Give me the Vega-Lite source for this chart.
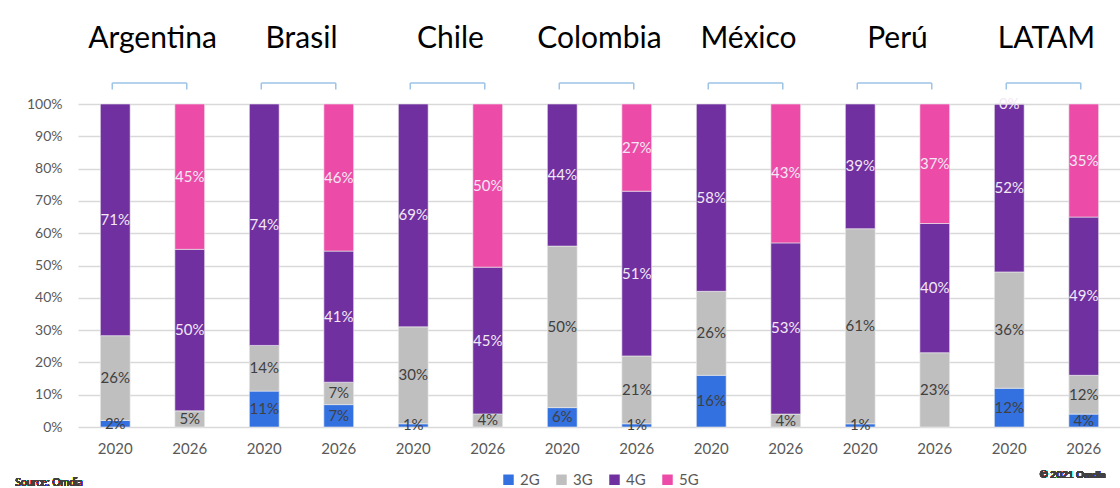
{
  "$schema": "https://vega.github.io/schema/vega-lite/v6.json",
  "width": 1043,
  "height": 323,
  "autosize": {"type": "none"},
  "padding": {"left": 78, "top": 104, "right": 0, "bottom": 61},
  "background": "white",
  "config": {"font": "Lato", "view": {"stroke": null},
             "legend": {"layout": {"bottom": {"anchor": "middle"}}}},
  "data": {"values": [
    {"country": "Argentina", "year": "2020", "key": "Argentina|2020", "tech": "2G", "value": 0.02},
    {"country": "Argentina", "year": "2020", "key": "Argentina|2020", "tech": "3G", "value": 0.26},
    {"country": "Argentina", "year": "2020", "key": "Argentina|2020", "tech": "4G", "value": 0.71},
    {"country": "Argentina", "year": "2026", "key": "Argentina|2026", "tech": "3G", "value": 0.05},
    {"country": "Argentina", "year": "2026", "key": "Argentina|2026", "tech": "4G", "value": 0.50},
    {"country": "Argentina", "year": "2026", "key": "Argentina|2026", "tech": "5G", "value": 0.45},
    {"country": "Brasil", "year": "2020", "key": "Brasil|2020", "tech": "2G", "value": 0.11},
    {"country": "Brasil", "year": "2020", "key": "Brasil|2020", "tech": "3G", "value": 0.14},
    {"country": "Brasil", "year": "2020", "key": "Brasil|2020", "tech": "4G", "value": 0.74},
    {"country": "Brasil", "year": "2026", "key": "Brasil|2026", "tech": "2G", "value": 0.07},
    {"country": "Brasil", "year": "2026", "key": "Brasil|2026", "tech": "3G", "value": 0.07},
    {"country": "Brasil", "year": "2026", "key": "Brasil|2026", "tech": "4G", "value": 0.41},
    {"country": "Brasil", "year": "2026", "key": "Brasil|2026", "tech": "5G", "value": 0.46},
    {"country": "Chile", "year": "2020", "key": "Chile|2020", "tech": "2G", "value": 0.01},
    {"country": "Chile", "year": "2020", "key": "Chile|2020", "tech": "3G", "value": 0.30},
    {"country": "Chile", "year": "2020", "key": "Chile|2020", "tech": "4G", "value": 0.69},
    {"country": "Chile", "year": "2026", "key": "Chile|2026", "tech": "3G", "value": 0.04},
    {"country": "Chile", "year": "2026", "key": "Chile|2026", "tech": "4G", "value": 0.45},
    {"country": "Chile", "year": "2026", "key": "Chile|2026", "tech": "5G", "value": 0.50},
    {"country": "Colombia", "year": "2020", "key": "Colombia|2020", "tech": "2G", "value": 0.06},
    {"country": "Colombia", "year": "2020", "key": "Colombia|2020", "tech": "3G", "value": 0.50},
    {"country": "Colombia", "year": "2020", "key": "Colombia|2020", "tech": "4G", "value": 0.44},
    {"country": "Colombia", "year": "2026", "key": "Colombia|2026", "tech": "2G", "value": 0.01},
    {"country": "Colombia", "year": "2026", "key": "Colombia|2026", "tech": "3G", "value": 0.21},
    {"country": "Colombia", "year": "2026", "key": "Colombia|2026", "tech": "4G", "value": 0.51},
    {"country": "Colombia", "year": "2026", "key": "Colombia|2026", "tech": "5G", "value": 0.27},
    {"country": "México", "year": "2020", "key": "México|2020", "tech": "2G", "value": 0.16},
    {"country": "México", "year": "2020", "key": "México|2020", "tech": "3G", "value": 0.26},
    {"country": "México", "year": "2020", "key": "México|2020", "tech": "4G", "value": 0.58},
    {"country": "México", "year": "2026", "key": "México|2026", "tech": "3G", "value": 0.04},
    {"country": "México", "year": "2026", "key": "México|2026", "tech": "4G", "value": 0.53},
    {"country": "México", "year": "2026", "key": "México|2026", "tech": "5G", "value": 0.43},
    {"country": "Perú", "year": "2020", "key": "Perú|2020", "tech": "2G", "value": 0.01},
    {"country": "Perú", "year": "2020", "key": "Perú|2020", "tech": "3G", "value": 0.61},
    {"country": "Perú", "year": "2020", "key": "Perú|2020", "tech": "4G", "value": 0.39},
    {"country": "Perú", "year": "2026", "key": "Perú|2026", "tech": "3G", "value": 0.23},
    {"country": "Perú", "year": "2026", "key": "Perú|2026", "tech": "4G", "value": 0.40},
    {"country": "Perú", "year": "2026", "key": "Perú|2026", "tech": "5G", "value": 0.37},
    {"country": "LATAM", "year": "2020", "key": "LATAM|2020", "tech": "2G", "value": 0.12},
    {"country": "LATAM", "year": "2020", "key": "LATAM|2020", "tech": "3G", "value": 0.36},
    {"country": "LATAM", "year": "2020", "key": "LATAM|2020", "tech": "4G", "value": 0.52},
    {"country": "LATAM", "year": "2020", "key": "LATAM|2020", "tech": "5G", "value": 0.0},
    {"country": "LATAM", "year": "2026", "key": "LATAM|2026", "tech": "2G", "value": 0.04},
    {"country": "LATAM", "year": "2026", "key": "LATAM|2026", "tech": "3G", "value": 0.12},
    {"country": "LATAM", "year": "2026", "key": "LATAM|2026", "tech": "4G", "value": 0.49},
    {"country": "LATAM", "year": "2026", "key": "LATAM|2026", "tech": "5G", "value": 0.35}
  ]},
  "layer": [
    {
      "mark": {"type": "bar", "stroke": "#EDEDED", "strokeWidth": 0.6},
      "encoding": {
        "x": {"field": "key", "type": "nominal", "sort": null,
              "scale": {"paddingInner": 0.6, "paddingOuter": 0.3},
              "axis": {"title": null, "ticks": false, "domain": false, "labelAngle": 0,
                       "labelPadding": 14, "labelFontSize": 15, "labelColor": "#595959",
                       "labelExpr": "split(datum.value, '|')[1]"}},
        "y": {"field": "value", "type": "quantitative", "stack": "normalize",
              "scale": {"domain": [0, 1]},
              "axis": {"title": null, "format": ".0%", "values": [0, 0.1, 0.2, 0.3, 0.4, 0.5, 0.6, 0.7, 0.8, 0.9, 1],
                       "labelOverlap": false, "ticks": false, "domain": false, "labelPadding": 16, "labelFontSize": 14,
                       "labelColor": "#595959", "gridColor": "#D9D9D9", "gridWidth": 1.5}},
        "order": {"field": "tech", "sort": "ascending"},
        "color": {"field": "tech", "type": "nominal",
                  "scale": {"domain": ["2G", "3G", "4G", "5G"], "range": ["#3370E0", "#BFBFBF", "#7030A0", "#EC4CA8"]},
                  "legend": {"title": null, "orient": "bottom", "direction": "horizontal", "symbolType": "square",
                             "symbolSize": 110, "symbolStrokeWidth": 0, "labelFontSize": 15, "labelColor": "#595959",
                             "columnPadding": 14, "offset": 16}}
      }
    },
    {
      "transform": [
        {"stack": "value", "groupby": ["key"], "sort": [{"field": "tech"}], "offset": "normalize", "as": ["v0", "v1"]},
        {"calculate": "(datum.v0 + datum.v1) / 2", "as": "mid"}
      ],
      "mark": {"type": "text", "fontSize": 15, "baseline": "middle"},
      "encoding": {
        "x": {"field": "key", "type": "nominal", "sort": null},
        "y": {"field": "mid", "type": "quantitative", "scale": {"domain": [0, 1]},
              "axis": {"title": null, "format": ".0%", "values": [0, 0.1, 0.2, 0.3, 0.4, 0.5, 0.6, 0.7, 0.8, 0.9, 1],
                       "labelOverlap": false, "ticks": false, "domain": false, "labelPadding": 16, "labelFontSize": 14,
                       "labelColor": "#595959", "gridColor": "#D9D9D9", "gridWidth": 1.5}},
        "text": {"field": "value", "type": "quantitative", "format": ".0%"},
        "color": {"condition": {"test": "datum.tech == '4G' || datum.tech == '5G'", "value": "#F3E8F5"}, "value": "#404040"}
      }
    },
    {
      "transform": [{"filter": "datum.year == '2020' && datum.tech == '3G'"}],
      "mark": {"type": "text", "fontSize": 30, "baseline": "middle", "color": "#000000"},
      "encoding": {
        "x": {"field": "key", "type": "nominal", "sort": null, "bandPosition": 1.75},
        "y": {"datum": 1.2, "type": "quantitative", "scale": {"domain": [0, 1]},
              "axis": {"title": null, "format": ".0%", "values": [0, 0.1, 0.2, 0.3, 0.4, 0.5, 0.6, 0.7, 0.8, 0.9, 1],
                       "labelOverlap": false, "ticks": false, "domain": false, "labelPadding": 16, "labelFontSize": 14,
                       "labelColor": "#595959", "gridColor": "#D9D9D9", "gridWidth": 1.5}},
        "text": {"field": "country"}
      }
    },
    {
      "transform": [{"filter": "datum.tech == '3G'"}],
      "mark": {"type": "line", "color": "#9DC3E6", "strokeWidth": 1.5},
      "encoding": {
        "x": {"field": "key", "type": "nominal", "sort": null, "bandPosition": 0.4},
        "y": {"datum": 1.065, "type": "quantitative", "scale": {"domain": [0, 1]},
              "axis": {"title": null, "format": ".0%", "values": [0, 0.1, 0.2, 0.3, 0.4, 0.5, 0.6, 0.7, 0.8, 0.9, 1],
                       "labelOverlap": false, "ticks": false, "domain": false, "labelPadding": 16, "labelFontSize": 14,
                       "labelColor": "#595959", "gridColor": "#D9D9D9", "gridWidth": 1.5}},
        "detail": {"field": "country"}
      }
    },
    {
      "transform": [{"filter": "datum.tech == '3G'"}],
      "mark": {"type": "rule", "color": "#9DC3E6", "strokeWidth": 1.5},
      "encoding": {
        "x": {"field": "key", "type": "nominal", "sort": null, "bandPosition": 0.4},
        "y": {"datum": 1.045, "type": "quantitative", "scale": {"domain": [0, 1]},
              "axis": {"title": null, "format": ".0%", "values": [0, 0.1, 0.2, 0.3, 0.4, 0.5, 0.6, 0.7, 0.8, 0.9, 1],
                       "labelOverlap": false, "ticks": false, "domain": false, "labelPadding": 16, "labelFontSize": 14,
                       "labelColor": "#595959", "gridColor": "#D9D9D9", "gridWidth": 1.5}},
        "y2": {"datum": 1.065}
      }
    },
    {
      "mark": {"type": "text", "fontSize": 10.5, "align": "left", "baseline": "middle", "color": "#404040", "dx": -85},
      "encoding": {
        "x": {"datum": "Argentina|2020", "bandPosition": 0},
        "y": {"datum": -0.173, "type": "quantitative", "scale": {"domain": [0, 1]},
              "axis": {"title": null, "format": ".0%", "values": [0, 0.1, 0.2, 0.3, 0.4, 0.5, 0.6, 0.7, 0.8, 0.9, 1],
                       "labelOverlap": false, "ticks": false, "domain": false, "labelPadding": 16, "labelFontSize": 14,
                       "labelColor": "#595959", "gridColor": "#D9D9D9", "gridWidth": 1.5}},
        "text": {"value": "Source: Omdia"}
      }
    },
    {
      "mark": {"type": "text", "fontSize": 10, "fontWeight": "bold", "align": "right", "baseline": "middle", "color": "#404040", "dx": 7},
      "encoding": {
        "x": {"datum": "LATAM|2026", "bandPosition": 1},
        "y": {"datum": -0.149, "type": "quantitative", "scale": {"domain": [0, 1]},
              "axis": {"title": null, "format": ".0%", "values": [0, 0.1, 0.2, 0.3, 0.4, 0.5, 0.6, 0.7, 0.8, 0.9, 1],
                       "labelOverlap": false, "ticks": false, "domain": false, "labelPadding": 16, "labelFontSize": 14,
                       "labelColor": "#595959", "gridColor": "#D9D9D9", "gridWidth": 1.5}},
        "text": {"value": "© 2021 Omdia"}
      }
    }
  ]
}
